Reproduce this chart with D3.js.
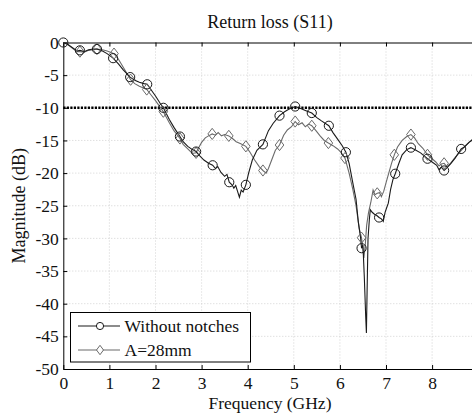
<!DOCTYPE html>
<html><head><meta charset="utf-8">
<script src="https://cdn.jsdelivr.net/npm/d3@7"></script>
</head><body style="margin:0;background:#fff"><svg id="c" width="472" height="413" style="display:block"></svg>
<script>
const xTicks=[0,1,2,3,4,5,6,7,8,9];
const xTickLabels=["0","1","2","3","4","5","6","7","8",""];
const yTicks=[0,-5,-10,-15,-20,-25,-30,-35,-40,-45,-50];
const threshold=-10;
const seriesNames=["Without notches","A=28mm"];
const freqA=[0,0.1,0.2,0.3,0.36,0.45,0.55,0.65,0.73,0.85,0.95,1.08,1.2,1.3,1.45,1.55,1.65,1.75,1.82,1.9,2.0,2.1,2.17,2.3,2.4,2.53,2.6,2.7,2.8,2.88,2.95,3.05,3.15,3.24,3.3,3.35,3.42,3.5,3.55,3.6,3.66,3.7,3.74,3.78,3.82,3.86,3.9,3.96,4.02,4.1,4.2,4.33,4.45,4.55,4.69,4.8,4.9,5.03,5.15,5.25,5.39,5.5,5.6,5.76,5.85,5.95,6.05,6.13,6.2,6.28,6.35,6.4,6.45,6.47,6.5,6.53,6.56,6.575,6.59,6.61,6.64,6.66,6.7,6.75,6.8,6.85,6.9,6.94,6.98,7.02,7.05,7.1,7.15,7.2,7.28,7.35,7.45,7.54,7.65,7.75,7.9,8.0,8.1,8.15,8.2,8.26,8.32,8.4,8.5,8.63,8.7,8.8,8.9,9.0];
const dbA=[0,-0.3,-0.8,-1.3,-1.2,-1.4,-1.1,-1.0,-1.0,-1.3,-1.7,-2.4,-3.3,-4.2,-5.3,-5.8,-6.1,-6.3,-6.4,-7.2,-8.2,-9.3,-10.0,-11.8,-13.0,-14.4,-15.2,-15.9,-16.4,-16.7,-17.3,-18.0,-18.5,-18.8,-19.3,-19.0,-19.9,-20.5,-20.2,-21.4,-21.8,-22.3,-21.9,-22.8,-23.7,-22.6,-22.9,-21.8,-20.0,-18.0,-16.5,-15.6,-13.5,-12.4,-11.2,-10.6,-10.2,-9.8,-10.1,-10.4,-10.8,-11.5,-12.0,-12.75,-13.8,-14.8,-15.8,-16.8,-18.5,-21.5,-24.0,-27.5,-30.0,-31.5,-31.0,-36.0,-42.0,-44.5,-38.0,-30.0,-27.0,-25.6,-26.0,-26.3,-26.5,-26.8,-27.0,-27.4,-26.0,-25.2,-24.6,-22.5,-21.0,-20.1,-18.5,-17.2,-16.4,-16.1,-16.5,-16.9,-17.8,-18.3,-18.8,-19.5,-19.1,-19.6,-19.2,-18.6,-17.7,-16.3,-16.0,-15.3,-14.8,-14.5];
const freqB=[0,0.1,0.2,0.3,0.36,0.45,0.55,0.65,0.73,0.85,0.95,1.1,1.2,1.3,1.46,1.55,1.65,1.75,1.81,1.9,2.0,2.1,2.17,2.3,2.4,2.53,2.6,2.7,2.8,2.88,2.93,3.0,3.08,3.15,3.23,3.3,3.36,3.43,3.5,3.59,3.67,3.75,3.85,3.96,4.05,4.15,4.25,4.33,4.4,4.45,4.52,4.6,4.69,4.78,4.86,4.95,5.03,5.1,5.18,5.25,5.32,5.39,5.48,5.57,5.66,5.75,5.85,5.95,6.02,6.11,6.2,6.28,6.35,6.42,6.47,6.52,6.55,6.58,6.62,6.67,6.72,6.76,6.81,6.86,6.9,6.95,7.0,7.06,7.12,7.18,7.25,7.35,7.45,7.54,7.62,7.7,7.8,7.9,8.0,8.08,8.15,8.2,8.26,8.32,8.4,8.5,8.6,8.7,8.8,8.9,9.0];
const dbB=[0,-0.3,-0.9,-1.4,-1.4,-1.5,-1.2,-1.1,-1.0,-1.1,-1.3,-1.7,-2.6,-3.8,-5.7,-6.3,-6.7,-7.0,-7.2,-8.0,-8.9,-9.9,-10.6,-12.3,-13.5,-14.7,-15.6,-16.3,-17.0,-16.9,-16.2,-15.3,-14.6,-14.3,-14.0,-14.2,-13.8,-14.3,-14.1,-14.3,-14.7,-15.2,-15.5,-15.9,-16.8,-18.0,-19.0,-19.6,-20.0,-19.3,-18.0,-16.5,-15.7,-14.2,-13.4,-12.9,-12.1,-12.6,-12.3,-12.9,-12.5,-12.75,-13.5,-14.3,-15.0,-15.4,-15.8,-16.3,-16.8,-17.7,-20.0,-22.5,-25.0,-28.5,-29.9,-33.0,-31.0,-28.0,-26.1,-24.5,-22.6,-23.3,-23.1,-23.0,-23.6,-22.8,-21.5,-20.0,-18.5,-17.2,-16.0,-15.0,-14.4,-14.1,-14.6,-15.5,-16.2,-17.2,-17.8,-18.3,-18.9,-18.6,-18.5,-19.0,-18.5,-17.6,-16.8,-16.0,-15.3,-14.7,-14.3];
const markFreqA=[0,0.36,0.73,1.08,1.45,1.82,2.17,2.53,2.88,3.24,3.6,3.96,4.33,4.69,5.03,5.39,5.76,6.13,6.47,6.85,7.2,7.54,7.9,8.26,8.63];
const markDbA=[0,-1.2,-1.0,-2.4,-5.3,-6.4,-10.0,-14.4,-16.7,-18.8,-21.4,-21.8,-15.6,-11.2,-9.8,-10.8,-12.75,-16.8,-31.5,-26.8,-20.1,-16.1,-17.8,-19.6,-16.3];
const markFreqB=[0.36,0.73,1.1,1.46,1.81,2.17,2.53,2.88,3.23,3.59,3.96,4.33,4.69,5.03,5.39,5.75,6.11,6.47,6.81,7.18,7.54,7.9,8.26];
const markDbB=[-1.4,-1.0,-1.7,-5.7,-7.2,-10.6,-14.7,-16.9,-14.0,-14.3,-15.9,-19.6,-15.7,-12.1,-12.75,-15.4,-17.7,-29.9,-23.1,-17.2,-14.1,-17.2,-18.5];

const FF='"Liberation Serif"';
const svg=d3.select("#c");
const L=63.3,T=42.5,B=369,R=478.2;
const x=d3.scaleLinear().domain([0,9]).range([L,R]);
const y=d3.scaleLinear().domain([-50,0]).range([B,T]);
const fs="17.5px";

// grid
svg.append("g").selectAll("line").data(xTicks.slice(1)).join("line")
 .attr("x1",d=>x(d)).attr("x2",d=>x(d)).attr("y1",T).attr("y2",B)
 .attr("stroke","#c8c8c8").attr("stroke-width",0.8).attr("stroke-dasharray","1,2");
svg.append("g").selectAll("line").data(yTicks.slice(1,-1)).join("line")
 .attr("x1",L).attr("x2",R).attr("y1",d=>y(d)).attr("y2",d=>y(d))
 .attr("stroke","#c8c8c8").attr("stroke-width",0.8).attr("stroke-dasharray","1,2");

// axes
const xa=svg.append("g").attr("transform",`translate(0,${B})`)
 .call(d3.axisBottom(x).tickValues(xTicks).tickSizeInner(-4).tickSizeOuter(0).tickPadding(7.5).tickFormat((d,i)=>xTickLabels[i]));
const xt=svg.append("g").attr("transform",`translate(0,${T})`)
 .call(d3.axisTop(x).tickValues(xTicks).tickSizeInner(-4).tickSizeOuter(0).tickFormat(""));
const ya=svg.append("g").attr("transform",`translate(${L},0)`)
 .call(d3.axisLeft(y).tickValues(yTicks).tickSizeInner(-4).tickSizeOuter(0).tickPadding(4.5).tickFormat(d=>d===0?"0":String(d)));
[xa,xt,ya].forEach(g=>{g.attr("font-family",null);g.selectAll("path").attr("stroke","#000");g.selectAll("line").attr("stroke","#000");
 g.selectAll("text").style("font-family",FF).style("font-size",fs).attr("fill","#111");});

// threshold
svg.append("line").attr("x1",L).attr("x2",R).attr("y1",y(threshold)).attr("y2",y(threshold))
 .attr("stroke","#000").attr("stroke-width",2.6).attr("stroke-dasharray","2.2,1.3");

const line=d3.line().x(d=>x(d[0])).y(d=>y(d[1]));
const dataA=freqA.map((f,i)=>[f,dbA[i]]);
const dataB=freqB.map((f,i)=>[f,dbB[i]]);
const colA="#1a1a1a",colB="#6a6a6a";
const mkDiamond=(w,h)=>({draw(ctx){ctx.moveTo(0,-h);ctx.lineTo(w,0);ctx.lineTo(0,h);ctx.lineTo(-w,0);ctx.closePath();}});
const dsym=d3.symbol().type(mkDiamond(4.3,5.6));
const dsymL=d3.symbol().type(mkDiamond(3.5,4.7));
const pl=svg.append("g");
pl.append("path").datum(dataB).attr("d",line).attr("fill","none").attr("stroke",colB).attr("stroke-width",1.1);
pl.append("path").datum(dataA).attr("d",line).attr("fill","none").attr("stroke",colA).attr("stroke-width",1.1);
pl.selectAll(".mb").data(markFreqB.map((f,i)=>[f,markDbB[i]])).join("path")
 .attr("transform",d=>`translate(${x(d[0])},${y(d[1])})`).attr("d",dsym)
 .attr("fill","none").attr("stroke",colB).attr("stroke-width",1);
pl.selectAll(".ma").data(markFreqA.map((f,i)=>[f,markDbA[i]])).join("circle")
 .attr("cx",d=>x(d[0])).attr("cy",d=>y(d[1])).attr("r",4.6)
 .attr("fill","none").attr("stroke",colA).attr("stroke-width",1);

// labels
const txt=(sel,size)=>sel.style("font-family",FF).style("font-size",size||fs).attr("fill","#111");
txt(svg.append("text").attr("x",270).attr("y",27.5).attr("text-anchor","middle"),"18px").text("Return loss (S11)");
txt(svg.append("text").attr("x",270).attr("y",409).attr("text-anchor","middle"),"17.5px").text("Frequency (GHz)");
txt(svg.append("text").attr("transform",`translate(25,${(T+B)/2}) rotate(-90)`).attr("text-anchor","middle"),"18px").text("Magnitude (dB)");

// legend
const lg=svg.append("g");
lg.append("rect").attr("x",70.5).attr("y",312.5).attr("width",180).attr("height",49.5).attr("fill","#fff").attr("stroke","#000").attr("stroke-width",1);
const ly=[326,350];
[colA,colB].forEach((c,i)=>{
 lg.append("line").attr("x1",78).attr("x2",120).attr("y1",ly[i]).attr("y2",ly[i]).attr("stroke",c).attr("stroke-width",1.1);
 if(i===0) lg.append("circle").attr("cx",100).attr("cy",ly[i]).attr("r",3.6).attr("fill","#fff").attr("stroke",c);
 else lg.append("path").attr("transform",`translate(100,${ly[i]})`).attr("d",dsymL).attr("fill","#fff").attr("stroke",c);
 txt(lg.append("text").attr("x",124.5).attr("y",ly[i]+5.8)).text(seriesNames[i]);
});
</script></body></html>
